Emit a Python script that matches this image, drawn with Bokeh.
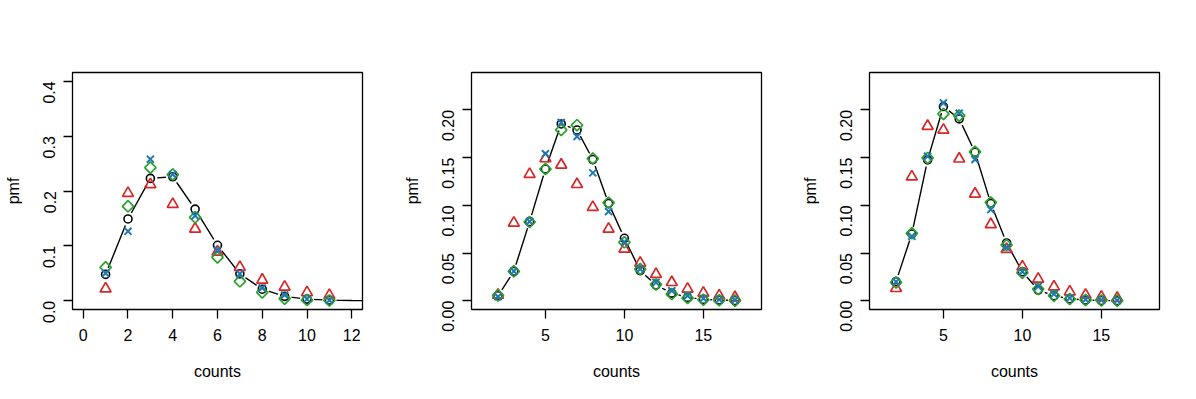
import numpy as np
from bokeh.plotting import figure
from bokeh.layouts import row
from bokeh.models import FixedTicker, NumeralTickFormatter, Range1d
from bokeh.embed import file_html
from bokeh.resources import INLINE

# ---------------- data ----------------
# panel 1
counts1 = [1, 2, 3, 4, 5, 6, 7, 8, 9, 10, 11]
line_counts1 = [1, 2, 3, 4, 5, 6, 7, 8, 9, 10, 11, 12, 13]
line_pmf1 = [0.048, 0.149, 0.223, 0.226, 0.167, 0.101, 0.049, 0.021, 0.008, 0.003, 0.001, 0.0003, 0.0001]
black1 = [0.048, 0.149, 0.223, 0.226, 0.167, 0.101, 0.049, 0.021, 0.008, 0.003, 0.001]
red1 = [0.022, 0.196, 0.212, 0.176, 0.131, 0.089, 0.061, 0.038, 0.025, 0.015, 0.010]
blue1 = [0.050, 0.1265, 0.258, 0.230, 0.155, 0.0924, 0.049, 0.023, 0.0103, 0.003, 0.001]
green1 = [0.0608, 0.172, 0.2426, 0.230, 0.152, 0.079, 0.0353, 0.0152, 0.0037, 0.0012, 0.0005]

# panel 2
counts2 = [2, 3, 4, 5, 6, 7, 8, 9, 10, 11, 12, 13, 14, 15, 16, 17]
black2 = [0.0052, 0.0308, 0.0829, 0.138, 0.1853, 0.179, 0.148, 0.102, 0.0654, 0.0315, 0.0164, 0.008, 0.0035, 0.0014, 0.0007, 0.0003]
red2 = [0.006, 0.0815, 0.1326, 0.149, 0.1424, 0.122, 0.098, 0.0752, 0.0542, 0.0396, 0.0277, 0.0193, 0.0123, 0.0081, 0.0053, 0.0035]
blue2 = [0.0042, 0.031, 0.083, 0.154, 0.1867, 0.172, 0.134, 0.0934, 0.0615, 0.0332, 0.0192, 0.0105, 0.0052, 0.0024, 0.0014, 0.0007]
green2 = [0.0056, 0.0308, 0.0825, 0.138, 0.179, 0.184, 0.149, 0.1028, 0.0612, 0.0332, 0.0171, 0.007, 0.0028, 0.001, 0.0004, 0.0001]

# panel 3
counts3 = [2, 3, 4, 5, 6, 7, 8, 9, 10, 11, 12, 13, 14, 15, 16]
black3 = [0.020, 0.070, 0.1476, 0.2035, 0.1906, 0.1556, 0.102, 0.0605, 0.0304, 0.0112, 0.0052, 0.002, 0.0007, 0.0003, 0.0001]
red3 = [0.013, 0.130, 0.183, 0.179, 0.1487, 0.112, 0.080, 0.054, 0.0357, 0.0228, 0.0147, 0.0095, 0.006, 0.0039, 0.0028]
blue3 = [0.020, 0.0675, 0.1514, 0.2073, 0.1965, 0.148, 0.0955, 0.056, 0.0304, 0.015, 0.007, 0.0028, 0.0014, 0.0007, 0.0003]
green3 = [0.0192, 0.0706, 0.1497, 0.1958, 0.194, 0.156, 0.103, 0.0584, 0.0294, 0.0122, 0.0052, 0.0017, 0.0007, 0.0003, 0.0001]

xlims = [(0, 12), (1, 18), (1, 18)]
ylims = [(0, 0.4), (0, 0.23), (0, 0.23)]
xticks = [[0, 2, 4, 6, 8, 10, 12], [5, 10, 15], [5, 10, 15]]
yticks = [[0.0, 0.1, 0.2, 0.3, 0.4], [0.0, 0.05, 0.10, 0.15, 0.20], [0.0, 0.05, 0.10, 0.15, 0.20]]
yfmt = ["0.0", "0.00", "0.00"]

panels = [
    (counts1, line_counts1, line_pmf1, black1, red1, blue1, green1),
    (counts2, counts2, black2, black2, red2, blue2, green2),
    (counts3, counts3, black3, black3, red3, blue3, green3),
]

# ---------------- style ----------------
FONT = "Liberation Sans"
RED = "#d62728"
BLUE = "#1f77b4"
GREEN = "#2ca02c"
widths = [399, 398, 392]
b_left = [72, 72, 72]
b_right = [37, 36, 30]


def ext(lim):
    d = lim[1] - lim[0]
    return Range1d(lim[0] - 0.04 * d, lim[1] + 0.04 * d)


figs = []
for i, (cx, lx, ly, bk, rd, bl, gr) in enumerate(panels):
    p = figure(width=widths[i], height=398, output_backend="svg", toolbar_location=None,
               x_range=ext(xlims[i]), y_range=ext(ylims[i]),
               min_border_left=b_left[i], min_border_right=b_right[i],
               min_border_top=72, min_border_bottom=89)
    p.background_fill_color = "white"
    p.border_fill_color = "white"
    p.outline_line_color = "black"
    p.outline_line_width = 1.3
    p.xgrid.visible = False
    p.ygrid.visible = False

    for ax in (p.xaxis[0], p.yaxis[0]):
        ax.axis_line_color = None
        ax.major_tick_in = 0
        ax.major_tick_out = 9
        ax.major_tick_line_color = "black"
        ax.major_tick_line_width = 1.3
        ax.minor_tick_line_color = None
        ax.major_label_text_font = FONT
        ax.major_label_text_font_size = "16px"
        ax.major_label_text_color = "black"
        ax.axis_label_text_font = FONT
        ax.axis_label_text_font_size = "16px"
        ax.axis_label_text_font_style = "normal"
        ax.axis_label_text_color = "black"

    p.xaxis[0].ticker = FixedTicker(ticks=xticks[i])
    p.xaxis[0].major_label_standoff = 10
    p.xaxis[0].axis_label = "counts"
    p.xaxis[0].axis_label_standoff = 19

    p.yaxis[0].ticker = FixedTicker(ticks=yticks[i])
    p.yaxis[0].formatter = NumeralTickFormatter(format=yfmt[i])
    p.yaxis[0].major_label_orientation = np.pi / 2
    p.yaxis[0].major_label_standoff = 14
    p.yaxis[0].axis_label = "pmf"
    p.yaxis[0].axis_label_standoff = 13

    # reference curve (type "b": line with gaps at points)
    p.line(lx, ly, line_color="black", line_width=1.4)
    p.scatter(cx, bk, marker="circle", size=14, fill_color="white", line_color=None)
    p.scatter(cx, bk, marker="circle", size=8, fill_color=None, line_color="black", line_width=1.6)
    # empirical estimates
    p.scatter(cx, rd, marker="triangle", size=11, fill_color=None, line_color=RED, line_width=1.7)
    p.scatter(cx, gr, marker="square", angle=np.pi / 4, size=8, fill_color=None, line_color=GREEN, line_width=1.7)
    p.scatter(cx, bl, marker="x", size=10, line_color=BLUE, line_width=2)
    figs.append(p)

layout = row(*figs)
open("out.html", "w").write(file_html(layout, INLINE))
